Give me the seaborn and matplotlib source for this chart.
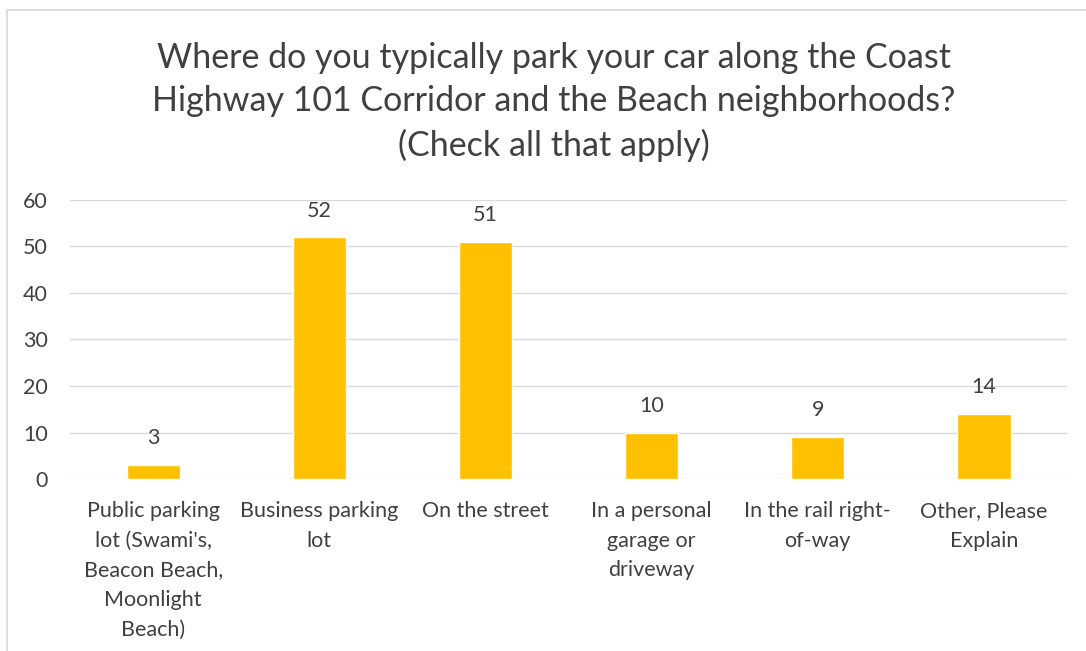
import matplotlib
matplotlib.use('Agg')
import matplotlib.pyplot as plt
from matplotlib.lines import Line2D
import seaborn as sns
import pandas as pd

# Dữ liệu
categories = [
    "Public parking\nlot (Swami's,\nBeacon Beach,\nMoonlight\nBeach)",
    "Business parking\nlot",
    "On the street",
    "In a personal\ngarage or\ndriveway",
    "In the rail right-\nof-way",
    "Other, Please\nExplain",
]
counts = [3, 52, 51, 10, 9, 14]
y_ticks = [0, 10, 20, 30, 40, 50, 60]

title = ("Where do you typically park your car along the Coast\n"
         "Highway 101 Corridor and the Beach neighborhoods?\n"
         "(Check all that apply)")

df = pd.DataFrame({'category': categories, 'count': counts})

sns.set_style('white')
plt.rcParams['font.family'] = ['Lato', 'DejaVu Sans']
text_color = '#404040'

fig = plt.figure(figsize=(10.86, 6.51), dpi=100)
# viền trên và trái của khung biểu đồ
fig.add_artist(Line2D([0.0065, 1.0], [0.9846, 0.9846], transform=fig.transFigure,
                      color='#D9D9D9', linewidth=1.2))
fig.add_artist(Line2D([0.0065, 0.0065], [0.0, 0.9846], transform=fig.transFigure,
                      color='#D9D9D9', linewidth=1.2))
ax = fig.add_axes([0.0645, 0.2642, 0.918, 0.4286])

sns.barplot(data=df, x='category', y='count', color='#FFC000', saturation=1,
            width=0.32, ax=ax, zorder=3)

for c in ax.containers:
    ax.bar_label(c, padding=12, fontsize=15.5, color=text_color)

ax.set_ylim(0, 60)
ax.set_yticks(y_ticks)
ax.yaxis.grid(True, color='#D9D9D9', linewidth=1, zorder=0)
ax.set_xlabel('')
ax.set_ylabel('')
for s in ax.spines.values():
    s.set_visible(False)
ax.tick_params(axis='y', length=0, pad=16, labelsize=15.5, labelcolor=text_color)
ax.tick_params(axis='x', length=0, pad=16)
ax.set_xticks(range(len(categories)))
ax.set_xticklabels(categories, fontsize=15.5, color=text_color,
                   linespacing=1.6, ha='center')

fig.text(0.51, 0.935, title, ha='center', va='top', fontsize=24.5,
         color=text_color, linespacing=1.42)

fig.savefig('out.png', dpi=100)
plt.close()
